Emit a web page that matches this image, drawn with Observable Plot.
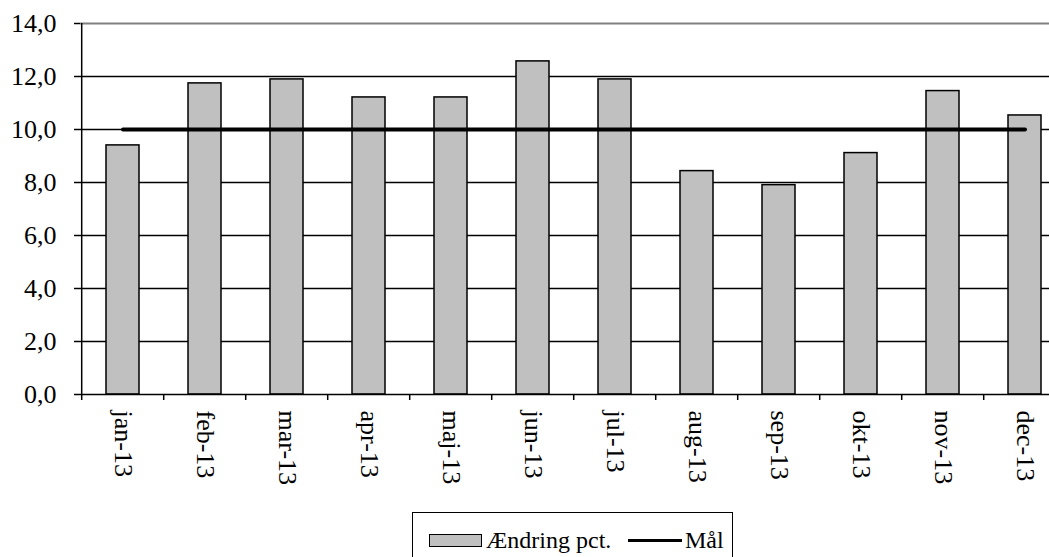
<!DOCTYPE html>
<html>
<head>
<meta charset="utf-8">
<script src="https://cdn.jsdelivr.net/npm/d3@7"></script>
<script src="https://cdn.jsdelivr.net/npm/@observablehq/plot@0.6"></script>
<style>
  html, body { margin: 0; padding: 0; background: white; overflow: hidden; }
  #chart svg { display: block; overflow: hidden; }
  #legend {
    position: absolute; left: 412px; top: 512px; width: 321px; height: 70px;
    border: 1.5px solid #000; box-sizing: border-box;
    font-family: "Liberation Serif", "Times New Roman", serif; font-size: 24px; color: #000;
  }
  #legend .item { position: absolute; top: 14px; display: flex; align-items: center; white-space: nowrap; }
  #legend .sw-bar { width: 51px; height: 11px; background: #c0c0c0; border: 1.5px solid #000; margin-right: 4px; }
  #legend .sw-line { width: 54px; height: 3.5px; background: #000; margin-right: 3px; }
</style>
</head>
<body>
<div id="chart"></div>
<div id="legend">
  <div class="item" style="left:16px"><span class="sw-bar"></span><span>Ændring pct.</span></div>
  <div class="item" style="left:215px"><span class="sw-line"></span><span>Mål</span></div>
</div>
<script>
const months = ["jan-13","feb-13","mar-13","apr-13","maj-13","jun-13","jul-13","aug-13","sep-13","okt-13","nov-13","dec-13"];
const change = [9.4, 11.74, 11.89, 11.21, 11.21, 12.57, 11.89, 8.43, 7.9, 9.11, 11.45, 10.53];
const goal = [10, 10, 10, 10, 10, 10, 10, 10, 10, 10, 10, 10];
const yTicks = [0, 2, 4, 6, 8, 10, 12, 14];

const bars = months.map((m, i) => ({month: m, value: change[i]}));
const goalData = months.map((m, i) => ({month: m, value: goal[i]}));

const step = 82.6;
const font = "Liberation Serif, Times New Roman, serif";

const chart = Plot.plot({
  width: 1049,
  height: 500,
  marginLeft: 80,
  marginRight: 0,
  marginTop: 23,
  marginBottom: 106,
  style: {fontFamily: font, fontSize: "26px", color: "#000", background: "white"},
  x: {type: "band", domain: months, range: [78, 78 + 12 * step], paddingInner: 0.6, paddingOuter: 0.3, label: null},
  y: {domain: [0, 14], label: null},
  marks: [
    Plot.ruleY(yTicks.filter(d => d > 0 && d < 14), {stroke: "#000", strokeWidth: 1.5}),
    Plot.ruleY([14], {stroke: "#808080", strokeWidth: 2}),
    Plot.barY(bars, {x: "month", y: "value", fill: "#c0c0c0", stroke: "#000", strokeWidth: 1.5}),
    Plot.lineY(goalData, {x: "month", y: "value", stroke: "#000", strokeWidth: 4}),
    Plot.ruleX(months, {x: d => d, dx: -step / 2, y1: 0, y2: 0, insetBottom: -6, stroke: "#000", strokeWidth: 1.5}),
    Plot.ruleX([months[0]], {x: d => d, dx: -step / 2, y1: 0, y2: 14, stroke: "#000", strokeWidth: 1.5}),
    Plot.ruleY([0], {stroke: "#000", strokeWidth: 1.5}),
    Plot.axisY({ticks: yTicks, tickFormat: d => d.toFixed(1).replace(".", ","), tickSize: 6, tickPadding: 18, stroke: "#000", strokeWidth: 1.5, strokeOpacity: 1, fontSize: 26, fill: "#000"}),
    Plot.axisX({tickRotate: 90, tickSize: 0, tickPadding: 16, fontSize: 26, fill: "#000"})
  ]
});
document.getElementById("chart").appendChild(chart);
</script>
</body>
</html>
